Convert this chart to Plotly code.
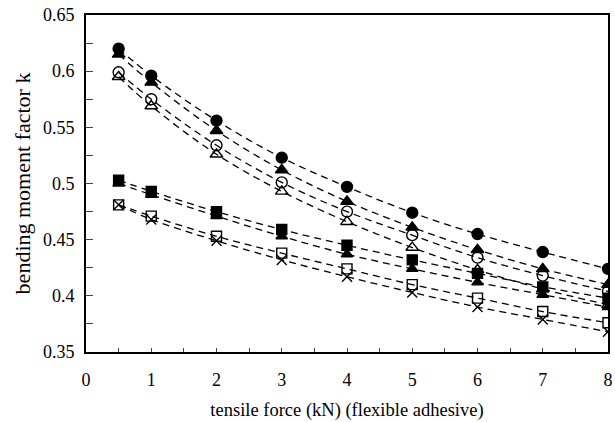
import plotly.graph_objects as go

# tensile force (kN)
force = [0.5, 1, 2, 3, 4, 5, 6, 7, 8]

# bending moment factor k for each configuration
k_filled_circle = [0.620, 0.596, 0.556, 0.523, 0.497, 0.474, 0.455, 0.439, 0.424]
k_filled_triangle_a = [0.615, 0.590, 0.547, 0.512, 0.484, 0.461, 0.441, 0.424, 0.410]
k_open_circle = [0.599, 0.575, 0.534, 0.501, 0.475, 0.454, 0.434, 0.418, 0.404]
k_open_triangle = [0.595, 0.569, 0.526, 0.493, 0.466, 0.443, 0.423, 0.406, 0.392]
k_filled_square = [0.503, 0.493, 0.475, 0.459, 0.445, 0.432, 0.420, 0.408, 0.398]
k_filled_triangle_b = [0.500, 0.490, 0.471, 0.453, 0.437, 0.424, 0.412, 0.401, 0.390]
k_open_square = [0.481, 0.471, 0.453, 0.438, 0.424, 0.410, 0.398, 0.386, 0.376]
k_cross = [0.481, 0.468, 0.449, 0.432, 0.417, 0.403, 0.390, 0.379, 0.368]

x_ticks = [0, 1, 2, 3, 4, 5, 6, 7, 8]
y_ticks = [0.35, 0.4, 0.45, 0.5, 0.55, 0.6, 0.65]
y_tick_text = ["0.35", "0.4", "0.45", "0.5", "0.55", "0.6", "0.65"]

series = [
    (k_filled_circle, "circle", 11),
    (k_filled_triangle_a, "triangle-up", 11),
    (k_open_circle, "circle-open", 11),
    (k_open_triangle, "triangle-up-open", 11),
    (k_filled_square, "square", 10),
    (k_filled_triangle_b, "triangle-up", 10),
    (k_open_square, "square-open", 10),
    (k_cross, "x-thin-open", 10),
]

fig = go.Figure()
for vals, sym, size in series:
    fig.add_trace(go.Scatter(
        x=force, y=vals, mode="lines+markers",
        line=dict(color="black", width=1.3, dash="7px,5px", shape="spline"),
        marker=dict(symbol=sym, size=size, color="black",
                    line=dict(color="black", width=1.4)),
        showlegend=False,
    ))

family = "Liberation Serif, Times New Roman, serif"
tick_font = dict(family=family, size=18, color="black")

fig.update_layout(
    width=615, height=422,
    margin=dict(l=86, r=2, t=15, b=70),
    paper_bgcolor="white", plot_bgcolor="white",
    font=tick_font,
)
fig.update_xaxes(
    range=[0, 8], tickvals=x_ticks, ticks="inside", ticklen=4, tickwidth=1.2,
    minor=dict(dtick=0.5, ticks="inside", ticklen=4, tickwidth=1.2),
    showgrid=False, zeroline=False, showline=True, linecolor="black",
    linewidth=2, mirror=True, ticklabelstandoff=10, tickfont=tick_font,
    ticklabeloverflow="allow",
    title=dict(text="tensile force (kN) (flexible adhesive)", standoff=14,
               font=dict(family=family, size=18.5, color="black")),
)
fig.update_yaxes(
    range=[0.35, 0.65], tickvals=y_ticks, ticktext=y_tick_text,
    ticks="inside", ticklen=7, tickwidth=1.2,
    minor=dict(dtick=0.025, ticks="inside", ticklen=7, tickwidth=1.2),
    showgrid=False, zeroline=False, showline=True, linecolor="black",
    linewidth=2, mirror=True, ticklabelstandoff=6, tickfont=tick_font,
    title=dict(text="bending moment factor k", standoff=6,
               font=dict(family=family, size=22, color="black")),
)

fig.write_html("out.html")
